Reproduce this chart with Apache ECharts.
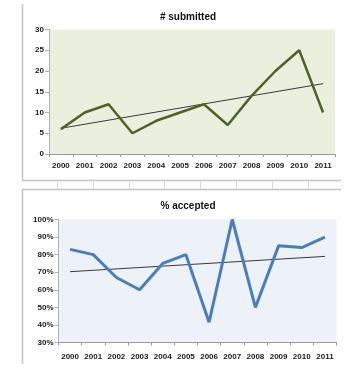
<!DOCTYPE html>
<html>
<head>
<meta charset="utf-8">
<script src="https://cdn.jsdelivr.net/npm/echarts@6/dist/echarts.min.js"></script>
<style>html,body{margin:0;padding:0;background:#fff}#c{width:362px;height:384px}</style>
</head>
<body>
<div id="c"></div>
<script>
var years = ['2000','2001','2002','2003','2004','2005','2006','2007','2008','2009','2010','2011'];
var submitted = [6, 10, 12, 5, 8, 10, 12, 7, 14, 20, 25, 10];
var submittedTrend = [6.2, null, null, null, null, null, null, null, null, null, null, 16.95];
var accepted = [83, 80, 67, 60, 75, 80, 41.5, 100, 50, 85, 84, 90];
var acceptedTrend = [70.3, null, null, null, null, null, null, null, null, null, null, 79];
var titles = ['# submitted', '% accepted'];

var font = "'Liberation Sans', Arial, sans-serif";
var labelStyle = {color: '#1a1a1a', fontSize: 8, fontWeight: 'bold', fontFamily: font};
var chart = echarts.init(document.getElementById('c'), null, {renderer: 'canvas'});

var frame = '#c4c4c4', cell = '#d9d9d9';
var cellXs = [57.5, 93.5, 129.5, 164.5, 200.5, 236.5, 272.5, 308.5];
var graphics = [
  {type: 'polyline', shape: {points: [[22.5, 4], [22.5, 180.5], [341, 180.5]]}, style: {stroke: frame, lineWidth: 1.5, fill: null}, silent: true},
  {type: 'polyline', shape: {points: [[341, 189.5], [22.5, 189.5], [22.5, 364]]}, style: {stroke: frame, lineWidth: 1.5, fill: null}, silent: true}
];
cellXs.forEach(function (x) {
  graphics.push({type: 'line', shape: {x1: x, y1: 181, x2: x, y2: 189}, style: {stroke: cell, lineWidth: 1}, silent: true});
});

chart.setOption({
  animation: false,
  title: [
    {text: titles[0], left: 183, top: 7, textAlign: 'center', textStyle: {fontSize: 10, fontWeight: 'bold', color: '#111', fontFamily: font}},
    {text: titles[1], left: 183, top: 196, textAlign: 'center', textStyle: {fontSize: 10, fontWeight: 'bold', color: '#111', fontFamily: font}}
  ],
  graphic: graphics,
  grid: [
    {left: 49, top: 29.5, width: 286, height: 124.5, show: true, backgroundColor: '#ebefde', borderWidth: 0},
    {left: 58.5, top: 219.5, width: 278, height: 123, show: true, backgroundColor: '#edf1f8', borderWidth: 0}
  ],
  xAxis: [
    {type: 'category', gridIndex: 0, data: years, boundaryGap: true,
     axisLine: {lineStyle: {color: '#9a9a9a', width: 1}}, axisTick: {show: true, length: 3, lineStyle: {color: '#9a9a9a'}},
     axisLabel: Object.assign({margin: 8, interval: 0}, labelStyle), splitLine: {show: false}},
    {type: 'category', gridIndex: 1, data: years, boundaryGap: true,
     axisLine: {lineStyle: {color: '#9a9a9a', width: 1}}, axisTick: {show: true, length: 3, lineStyle: {color: '#9a9a9a'}},
     axisLabel: Object.assign({margin: 10, interval: 0}, labelStyle), splitLine: {show: false}}
  ],
  yAxis: [
    {type: 'value', gridIndex: 0, min: 0, max: 30, interval: 5,
     axisLine: {show: true, lineStyle: {color: '#b0b0b0'}}, axisTick: {show: true, length: 4, lineStyle: {color: '#b0b0b0'}},
     axisLabel: Object.assign({margin: 5}, labelStyle), splitLine: {show: false}},
    {type: 'value', gridIndex: 1, min: 30, max: 100, interval: 10,
     axisLine: {show: true, lineStyle: {color: '#b0b0b0'}}, axisTick: {show: true, length: 4, lineStyle: {color: '#b0b0b0'}},
     axisLabel: Object.assign({margin: 5, formatter: '{value}%'}, labelStyle), splitLine: {show: false}}
  ],
  series: [
    {type: 'line', xAxisIndex: 0, yAxisIndex: 0, data: submittedTrend, connectNulls: true, symbol: 'none',
     lineStyle: {color: '#3a3a3a', width: 1}, z: 2},
    {type: 'line', xAxisIndex: 0, yAxisIndex: 0, data: submitted, symbol: 'none',
     lineStyle: {color: '#4f6228', width: 2.5}, z: 3},
    {type: 'line', xAxisIndex: 1, yAxisIndex: 1, data: acceptedTrend, connectNulls: true, symbol: 'none',
     lineStyle: {color: '#3a3a3a', width: 1}, z: 2},
    {type: 'line', xAxisIndex: 1, yAxisIndex: 1, data: accepted, symbol: 'none',
     lineStyle: {color: '#4a7ebb', width: 3}, z: 3}
  ]
});
</script>
</body>
</html>
